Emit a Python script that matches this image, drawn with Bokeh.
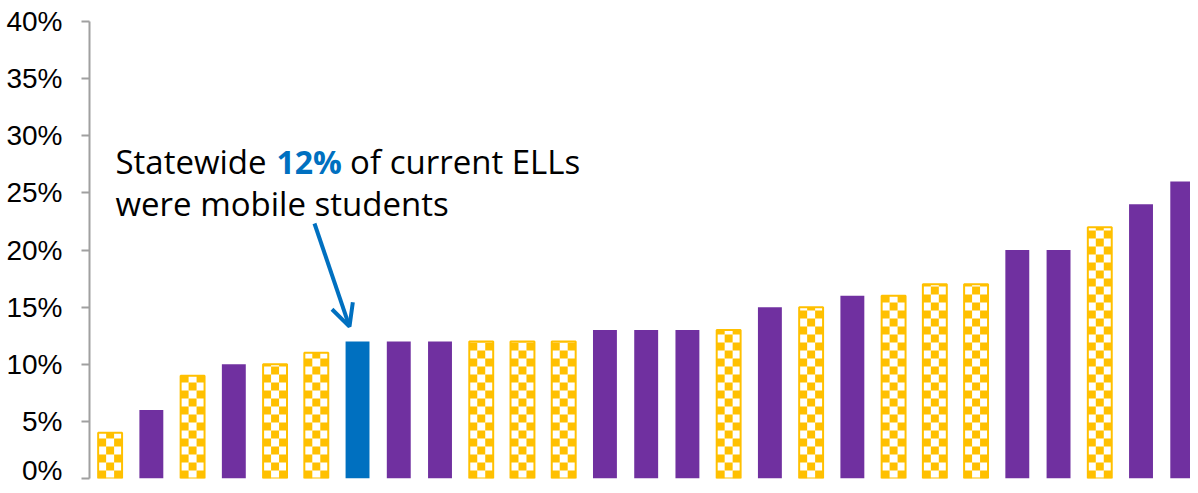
from bokeh.plotting import figure
from bokeh.models import (ColumnDataSource, Label, Arrow, OpenHead, Range1d, FixedTicker,
                          CustomJSTickFormatter)
from bokeh.embed import file_html
from bokeh.resources import INLINE

# ---- data ----
positions = list(range(1, 28))
values = [4, 6, 9, 10, 10, 11, 12, 12, 12, 12, 12, 12, 13, 13, 13, 13,
          15, 15, 16, 16, 17, 17, 20, 20, 22, 24, 26]
kinds = ["c", "p", "c", "p", "c", "c", "s", "p", "p", "c", "c", "c", "p", "p", "p", "c",
         "p", "c", "p", "c", "c", "c", "p", "p", "c", "p", "p"]
y_ticks = [0, 5, 10, 15, 20, 25, 30, 35, 40]
statewide_value = 12
statewide_pos = 7

PURPLE = "#7030A0"
YELLOW = "#FFC000"
BLUE = "#0070C0"
BAR_W = 0.58

p = figure(width=1190, height=485, output_backend="svg", toolbar_location=None,
           x_range=Range1d(0.5, 27.2), y_range=Range1d(0, 40),
           min_border_left=89, min_border_right=0, min_border_top=21, min_border_bottom=7)

def pick(kind):
    xs = [x for x, k in zip(positions, kinds) if k == kind]
    ys = [v for v, k in zip(values, kinds) if k == kind]
    return xs, ys

px_, py_ = pick("p")
p.vbar(x=px_, top=py_, width=BAR_W, fill_color=PURPLE, line_color=None)
sx_, sy_ = pick("s")
p.vbar(x=sx_, top=sy_, width=BAR_W, fill_color=BLUE, line_color=None)

# checkered bars: white fill + yellow checker squares (3 columns, ~8px rows)
cx_, cy_ = pick("c")
p.vbar(x=cx_, top=cy_, width=BAR_W, fill_color="white", line_color=None)
sq_h = 0.70  # ~8 px in data units
col_w = BAR_W / 3
L, R, B, T = [], [], [], []
for x, v in zip(cx_, cy_):
    left = x - BAR_W / 2
    row = 0
    b = 0.0
    while b < v - 1e-9:
        t = min(b + sq_h, v)
        for c in range(3):
            if (row + c) % 2 == 0:
                L.append(left + c * col_w)
                R.append(left + (c + 1) * col_w)
                B.append(b)
                T.append(t)
        b += sq_h
        row += 1
p.quad(left=L, right=R, bottom=B, top=T, fill_color=YELLOW, line_color=None)
p.vbar(x=cx_, top=cy_, width=BAR_W, fill_color=None, line_color=YELLOW, line_width=2)

p.xaxis.visible = False
p.xgrid.visible = False
p.ygrid.visible = False
p.outline_line_color = None

ya = p.yaxis[0]
ya.ticker = FixedTicker(ticks=y_ticks)
ya.formatter = CustomJSTickFormatter(code="return tick + '%';")
ya.axis_line_color = "#A0A0A0"
ya.axis_line_width = 2
ya.major_tick_line_color = "#A0A0A0"
ya.major_tick_line_width = 2
ya.major_tick_in = 0
ya.major_tick_out = 8
ya.minor_tick_line_color = None
ya.major_label_standoff = 19
ya.major_label_text_font = "Liberation Sans"
ya.major_label_text_font_size = "28px"
ya.major_label_text_color = "black"

# annotation text
tx = statewide_pos - 5.870
l1y = statewide_value + 15.75
l2y = statewide_value + 12.07
font = "Open Sans"
fs = "33px"
p.add_layout(Label(x=tx, y=l1y, text="Statewide", text_font=font, text_font_size=fs,
                   text_color="black", text_baseline="alphabetic"))
p.add_layout(Label(x=statewide_pos - 1.966, y=l1y, text="12%", text_font=font, text_font_size="32px",
                   text_font_style="bold", text_color=BLUE, text_baseline="alphabetic"))
p.add_layout(Label(x=statewide_pos - 0.18, y=l1y, text="of current ELLs", text_font=font,
                   text_font_size=fs, text_color="black", text_baseline="alphabetic"))
p.add_layout(Label(x=tx, y=l2y, text="were mobile students", text_font=font, text_font_size=fs,
                   text_color="black", text_baseline="alphabetic"))

p.add_layout(Arrow(end=OpenHead(size=22, line_color=BLUE, line_width=4),
                   x_start=statewide_pos - 1.044, y_start=statewide_value + 10.32,
                   x_end=statewide_pos - 0.195, y_end=statewide_value + 1.3,
                   line_color=BLUE, line_width=4))

open("out.html", "w").write(file_html(p, INLINE))
